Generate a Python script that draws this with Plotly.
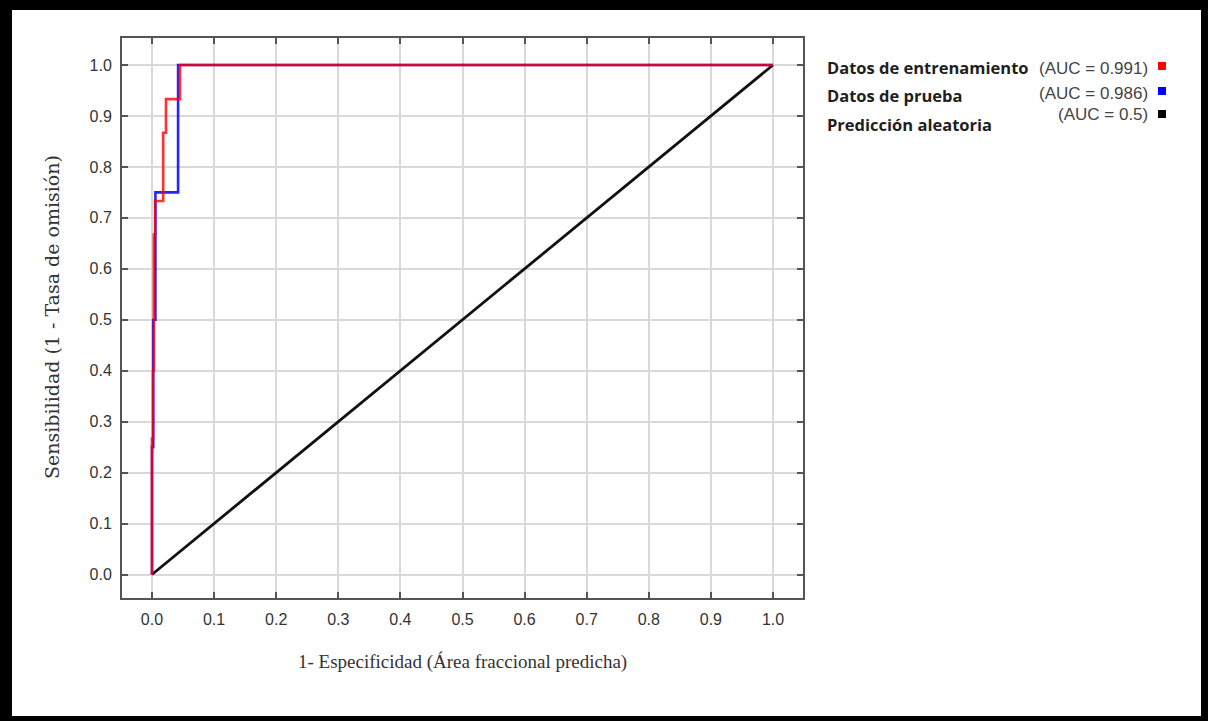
import plotly.graph_objects as go

# ROC step curves (fraction of predicted area vs. sensitivity)
train_fpr = [0.0, 0.0, 0.0016, 0.0016, 0.003, 0.003, 0.005, 0.005, 0.018, 0.018, 0.0225, 0.0225, 0.045, 0.045, 1.0]
train_tpr = [0.0, 0.267, 0.267, 0.4, 0.4, 0.667, 0.667, 0.733, 0.733, 0.867, 0.867, 0.933, 0.933, 1.0, 1.0]

test_fpr = [0.0, 0.0, 0.002, 0.002, 0.0055, 0.0055, 0.042, 0.042, 1.0]
test_tpr = [0.0, 0.25, 0.25, 0.5, 0.5, 0.75, 0.75, 1.0, 1.0]

random_fpr = [0.0, 1.0]
random_tpr = [0.0, 1.0]

series_names = ["Datos de entrenamiento", "Datos de prueba", "Predicción aleatoria"]
auc_labels = ["(AUC = 0.991)", "(AUC = 0.986)", "(AUC = 0.5)"]
series_colors = ["#ff0000", "#0000ff", "#000000"]

tick_values = [i / 10 for i in range(11)]
tick_labels = [f"{v:.1f}" for v in tick_values]

# plot-area geometry in pixels
W, H = 1208, 721
PL, PR, PT, PB = 122, 803, 38, 598


def px(x):
    return (x - PL) / (PR - PL)


def py(y):
    return (PB - y) / (PB - PT)


fig = go.Figure()

fig.add_trace(go.Scatter(x=random_fpr, y=random_tpr, mode="lines",
                         line=dict(color="#111111", width=2.8), name=series_names[2]))
fig.add_trace(go.Scatter(x=test_fpr, y=test_tpr, mode="lines",
                         line=dict(color=series_colors[1], width=2.6), opacity=0.85,
                         name=series_names[1]))
fig.add_trace(go.Scatter(x=train_fpr, y=train_tpr, mode="lines",
                         line=dict(color=series_colors[0], width=2.6), opacity=0.8,
                         name=series_names[0]))

axis_common = dict(
    tickmode="array", tickvals=tick_values, ticktext=tick_labels,
    ticks="inside", ticklen=6, tickwidth=1.5, tickcolor="#555555",
    showline=True, linecolor="#555555", linewidth=2, mirror="all",
    showgrid=True, gridcolor="#d9d9d9", gridwidth=1.5, zeroline=False,
    tickfont=dict(family="Liberation Sans, Arial", size=16, color="#333333"),
)

fig.update_xaxes(range=[-0.0483, 1.0483], ticklabelstandoff=6, **axis_common)
fig.update_yaxes(range=[-0.0461, 1.0530], ticklabelstandoff=5, **axis_common)

annotations = [
    dict(text="1- Especificidad (Área fraccional predicha)", x=px(462), y=py(662),
         xref="paper", yref="paper", showarrow=False, xanchor="center", yanchor="middle",
         font=dict(family="Liberation Serif, Times New Roman", size=19, color="#333333")),
    dict(text="Sensibilidad (1 - Tasa de omisión)", x=px(52), y=py(317),
         xref="paper", yref="paper", showarrow=False, xanchor="center", yanchor="middle",
         textangle=-90,
         font=dict(family="DejaVu Serif", size=19, color="#333333")),
]

name_rows = [67, 96, 124]
auc_rows = [68, 93, 115]
for name, auc, ny, ay in zip(series_names, auc_labels, name_rows, auc_rows):
    annotations.append(dict(text=f"<b>{name}</b>", x=px(825), y=py(ny), xref="paper", yref="paper",
                            showarrow=False, xanchor="left", yanchor="middle",
                            font=dict(family="Open Sans", size=16.5, color="#1e1e1e")))
    annotations.append(dict(text=auc, x=px(1150), y=py(ay), xref="paper", yref="paper",
                            showarrow=False, xanchor="right", yanchor="middle",
                            font=dict(family="Liberation Sans, Arial", size=17, color="#444444")))

shapes = [
    # white page inside the black frame
    dict(type="rect", xref="paper", yref="paper", x0=px(12), x1=px(1201), y0=py(716), y1=py(10),
         fillcolor="white", line=dict(width=0), layer="below"),
]
square_rows = [66, 91, 114]
for color, sy in zip(series_colors, square_rows):
    shapes.append(dict(type="rect", xref="paper", yref="paper",
                       x0=px(1158), x1=px(1166), y0=py(sy + 4), y1=py(sy - 4),
                       fillcolor=color, line=dict(width=0)))

fig.update_layout(
    width=W, height=H,
    margin=dict(l=PL, r=W - PR, t=PT, b=H - PB, pad=0),
    paper_bgcolor="#000000", plot_bgcolor="white",
    showlegend=False,
    annotations=annotations, shapes=shapes,
)

fig.write_html("out.html")
